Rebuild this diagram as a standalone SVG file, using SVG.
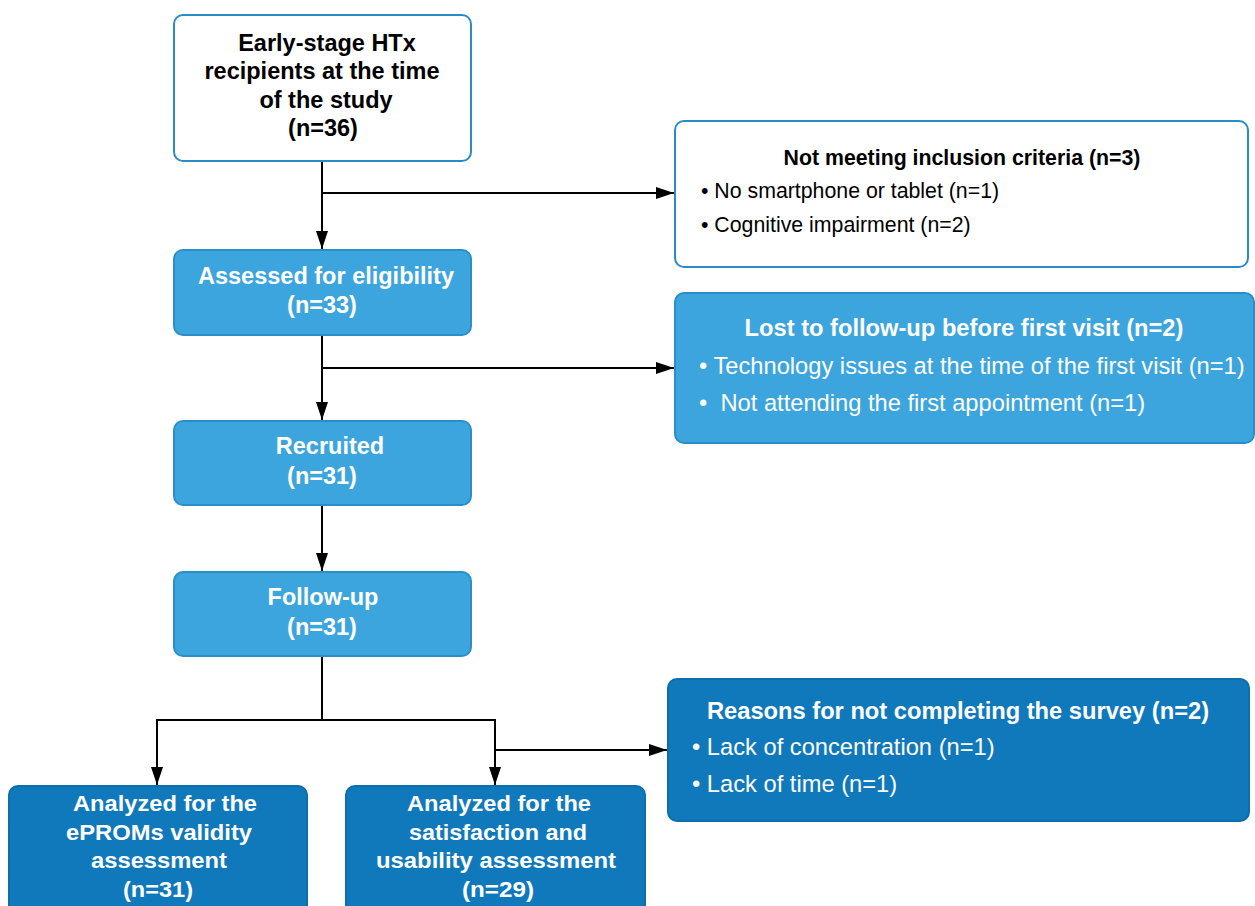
<svg xmlns="http://www.w3.org/2000/svg" width="1255" height="906" viewBox="0 0 1255 906">
<defs>
<marker id="ah" viewBox="0 0 18 12" refX="18" refY="6" markerWidth="18" markerHeight="12" markerUnits="userSpaceOnUse" orient="auto">
<path d="M0,0 L18,6 L0,12 z" fill="#000"/>
</marker>
<style>
.wbox{fill:#fff;stroke:#2b8bc9;stroke-width:2}
.lbox{fill:#3ca5dd;stroke:#2a8fc8;stroke-width:2}
.dbox{fill:#0f79bb;stroke:#0d6eab;stroke-width:2}
.t{font-family:"Liberation Sans",Arial,sans-serif;font-size:23.5px;font-weight:bold;text-anchor:middle}
.s{font-family:"Liberation Sans",Arial,sans-serif;font-size:22.5px;font-weight:bold;text-anchor:middle}
.w{fill:#fff}
.k{fill:#000}
.h{font-family:"Liberation Sans",Arial,sans-serif;font-weight:bold;text-anchor:middle}
.b{font-family:"Liberation Sans",Arial,sans-serif}
.c{fill:none;stroke:#000;stroke-width:2}
</style>
</defs>
<g id="connectors">
<path class="c" d="M322,162 V249" marker-end="url(#ah)"/>
<path class="c" d="M322,193 H674" marker-end="url(#ah)"/>
<path class="c" d="M322,336 V420" marker-end="url(#ah)"/>
<path class="c" d="M322,368 H674" marker-end="url(#ah)"/>
<path class="c" d="M322,506 V571" marker-end="url(#ah)"/>
<path class="c" d="M322,657 V720"/>
<path class="c" d="M157,720 H495"/>
<path class="c" d="M157,719 V785" marker-end="url(#ah)"/>
<path class="c" d="M495,719 V785" marker-end="url(#ah)"/>
<path class="c" d="M495,750 H667" marker-end="url(#ah)"/>
</g>
<g id="n1">
<rect class="wbox" x="174" y="15" width="297" height="146" rx="9"/>
<text class="t k" x="327" y="51">Early-stage HTx</text>
<text class="t k" x="322" y="79">recipients at the time</text>
<text class="t k" x="326" y="108">of the study</text>
<text class="t k" x="323" y="136">(n=36)</text>
</g>
<g id="n2">
<rect class="wbox" x="675" y="121" width="573" height="146" rx="9"/>
<text class="h k" x="962" y="165" font-size="21.3">Not meeting inclusion criteria (n=3)</text>
<text class="b k" x="701" y="198" font-size="21.3">• No smartphone or tablet (n=1)</text>
<text class="b k" x="701" y="232" font-size="21.3">• Cognitive impairment (n=2)</text>
</g>
<g id="n3">
<rect class="lbox" x="675" y="293" width="579" height="150" rx="9"/>
<text class="h w" x="964" y="336" font-size="23.7">Lost to follow-up before first visit (n=2)</text>
<text class="b w" x="699" y="374" font-size="23.7">• Technology issues at the time of the first visit (n=1)</text>
<text class="b w" x="699" y="411" font-size="23.7" xml:space="preserve">•  Not attending the first appointment (n=1)</text>
</g>
<g id="n4">
<rect class="lbox" x="174" y="250" width="297" height="85" rx="9"/>
<text class="t w" x="326" y="284">Assessed for eligibility</text>
<text class="t w" x="322" y="313">(n=33)</text>
</g>
<g id="n5">
<rect class="lbox" x="174" y="421" width="297" height="84" rx="9"/>
<text class="t w" x="330" y="454">Recruited</text>
<text class="t w" x="322" y="484">(n=31)</text>
</g>
<g id="n6">
<rect class="lbox" x="174" y="572" width="297" height="84" rx="9"/>
<text class="t w" x="323" y="605">Follow-up</text>
<text class="t w" x="322" y="635">(n=31)</text>
</g>
<g id="n7">
<rect class="dbox" x="668" y="679" width="581" height="142" rx="9"/>
<text class="h w" x="958" y="719" font-size="23.7">Reasons for not completing the survey (n=2)</text>
<text class="b w" x="692" y="755" font-size="23.7">• Lack of concentration (n=1)</text>
<text class="b w" x="692" y="792" font-size="23.7">• Lack of time (n=1)</text>
</g>
<g id="n8">
<rect class="dbox" x="9" y="786" width="298" height="130" rx="9"/>
<text class="s w" x="165" y="811" textLength="184" lengthAdjust="spacingAndGlyphs">Analyzed for the</text>
<text class="s w" x="159" y="840" textLength="186" lengthAdjust="spacingAndGlyphs">ePROMs validity</text>
<text class="s w" x="159" y="868" textLength="136" lengthAdjust="spacingAndGlyphs">assessment</text>
<text class="s w" x="158" y="897" textLength="70" lengthAdjust="spacingAndGlyphs">(n=31)</text>
</g>
<g id="n9">
<rect class="dbox" x="346" y="786" width="299" height="130" rx="9"/>
<text class="s w" x="499" y="811" textLength="184" lengthAdjust="spacingAndGlyphs">Analyzed for the</text>
<text class="s w" x="498" y="840" textLength="178" lengthAdjust="spacingAndGlyphs">satisfaction and</text>
<text class="s w" x="496" y="868" textLength="240" lengthAdjust="spacingAndGlyphs">usability assessment</text>
<text class="s w" x="498" y="897" textLength="72" lengthAdjust="spacingAndGlyphs">(n=29)</text>
</g>
</svg>
